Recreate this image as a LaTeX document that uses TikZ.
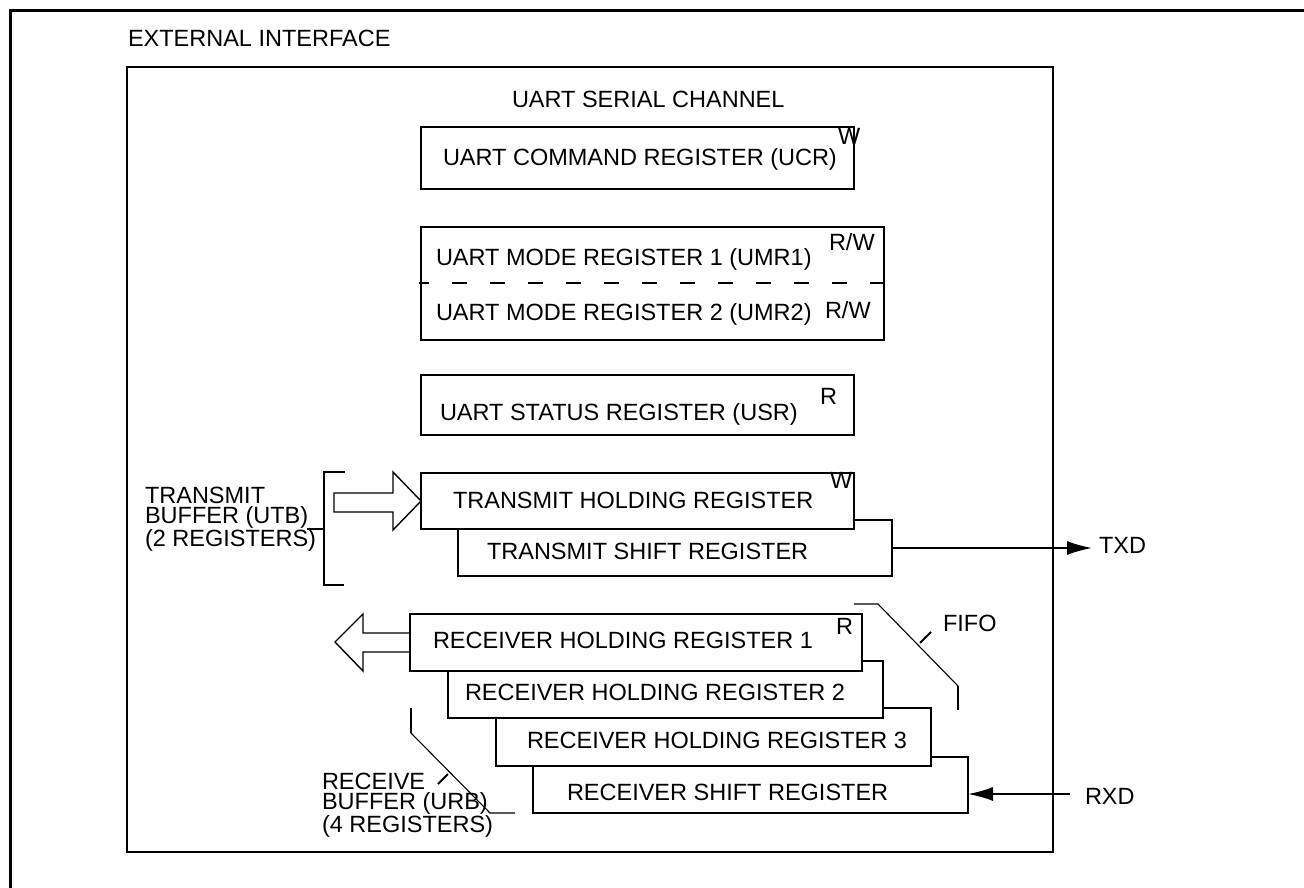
\documentclass[tikz,border=0pt]{standalone}
\usepackage{fontspec}
\setmainfont{Liberation Sans}
\usetikzlibrary{fit,arrows.meta}
\begin{document}
\begin{tikzpicture}[x=1pt,y=-1pt,
  regbox/.style={draw, line width=1.1pt, fill=white, inner sep=0pt, outer sep=0pt},
  lbl/.style={inner sep=0pt, outer sep=0pt, anchor=base west, font=\fontsize{23.5}{20}\selectfont},
  mlbl/.style={inner sep=0pt, outer sep=0pt, anchor=north west, align=left, font=\fontsize{23.5}{20}\selectfont},
  sig/.style={line width=1.7pt, -{Latex[length=25pt,width=14pt]}},
  thinln/.style={line width=1.1pt},
  brk/.style={line width=1.8pt},
  hollow/.style={line width=1.4pt, line join=miter}]
\useasboundingbox (0,0) rectangle (1304,888);
% outer frame
\draw[line width=3pt] (10.5,888) -- (10.5,10.5) -- (1304,10.5);
\node[lbl] (ext) at (128,47) {EXTERNAL INTERFACE};
% UART channel box
\node[regbox, fill=none, fit={(127,67)(1053,852)}] (uart) {};
\node[lbl] (chan) at (512,108) {UART SERIAL CHANNEL};
% UCR
\node[regbox, fit={(421,127)(854,189)}] (ucr) {};
\node[lbl] (ucrt) at (443,166) {UART COMMAND REGISTER (UCR)};
\node[lbl] (ucrw) at (838,145) {W};
% UMR
\node[regbox, fit={(421,227)(884,340)}] (umr) {};
\draw[thinln, dash pattern=on 15pt off 23pt, dash phase=5pt] (419,283) -- (884,283);
\node[lbl] (umr1) at (436,265) {UART MODE REGISTER 1 (UMR1)};
\node[lbl] (umr1a) at (829,250) {R/W};
\node[lbl] (umr2) at (436,320) {UART MODE REGISTER 2 (UMR2)};
\node[lbl] (umr2a) at (825,318) {R/W};
% USR
\node[regbox, fit={(421,375)(854,435)}] (usr) {};
\node[lbl] (usrt) at (440,420) {UART STATUS REGISTER (USR)};
\node[lbl] (usra) at (820,404) {R};
% transmit
\node[regbox, fit={(458,520)(892,576)}] (tsr) {};
\node[lbl] (tsrt) at (487,559) {TRANSMIT SHIFT REGISTER};
\node[regbox, fit={(421,473)(854,529)}] (thr) {};
\node[lbl] (thrt) at (453,508) {TRANSMIT HOLDING REGISTER};
\node[lbl] (thra) at (830,488) {W};
\draw[hollow] (334,493) -- (393,493) -- (393,472) -- (thr.west |- 0,501) -- (393,530) -- (393,512) -- (334,512) -- cycle;
\draw[brk] (345,472) -- (324,472) -- (324,585) -- (344,585);
\draw[brk] (307,529) -- (324,529);
\node[mlbl] (tbuf) at (145,487) {TRANSMIT\\BUFFER (UTB)\\(2 REGISTERS)};
\coordinate (txdout) at (1092,548);
\draw[sig] (tsr.east) -- (txdout);
\node[lbl] (txd) at (1099,553) {TXD};
% receive
\node[regbox, fit={(533,757)(968,813)}] (rsr) {};
\node[lbl] (rsrt) at (567,800) {RECEIVER SHIFT REGISTER};
\node[regbox, fit={(496,708)(931,766)}] (rhr3) {};
\node[lbl] (rhr3t) at (527,748) {RECEIVER HOLDING REGISTER 3};
\node[regbox, fit={(448,661)(883,718)}] (rhr2) {};
\node[lbl] (rhr2t) at (465,700) {RECEIVER HOLDING REGISTER 2};
\node[regbox, fit={(410,614)(862,671)}] (rhr1) {};
\node[lbl] (rhr1t) at (433,648) {RECEIVER HOLDING REGISTER 1};
\node[lbl] (rhr1a) at (836,634) {R};
\draw[hollow] (rhr1.west |- 0,633) -- (363,633) -- (363,614) -- (335,642) -- (363,671) -- (363,652) -- (rhr1.west |- 0,652);
\coordinate (rxdin) at (1070,794);
\draw[sig] (rxdin) -- (rxdin -| rsr.east);
\node[lbl] (rxd) at (1085,804) {RXD};
% FIFO bracket
\draw[thinln] (854,604) -- (878,604) -- (958,686);
\draw[brk] (958,686) -- (958,710);
\draw[brk] (920,643) -- (931,632);
\node[lbl] (fifo) at (943,631) {FIFO};
% receive buffer bracket
\draw[brk] (411,708) -- (411,733);
\draw[thinln] (411,733) -- (490,813) -- (515,813);
\draw[brk] (438,784) -- (448,774);
\node[mlbl] (rbuf) at (322,773) {RECEIVE\\BUFFER (URB)\\(4 REGISTERS)};
\end{tikzpicture}
\end{document}
